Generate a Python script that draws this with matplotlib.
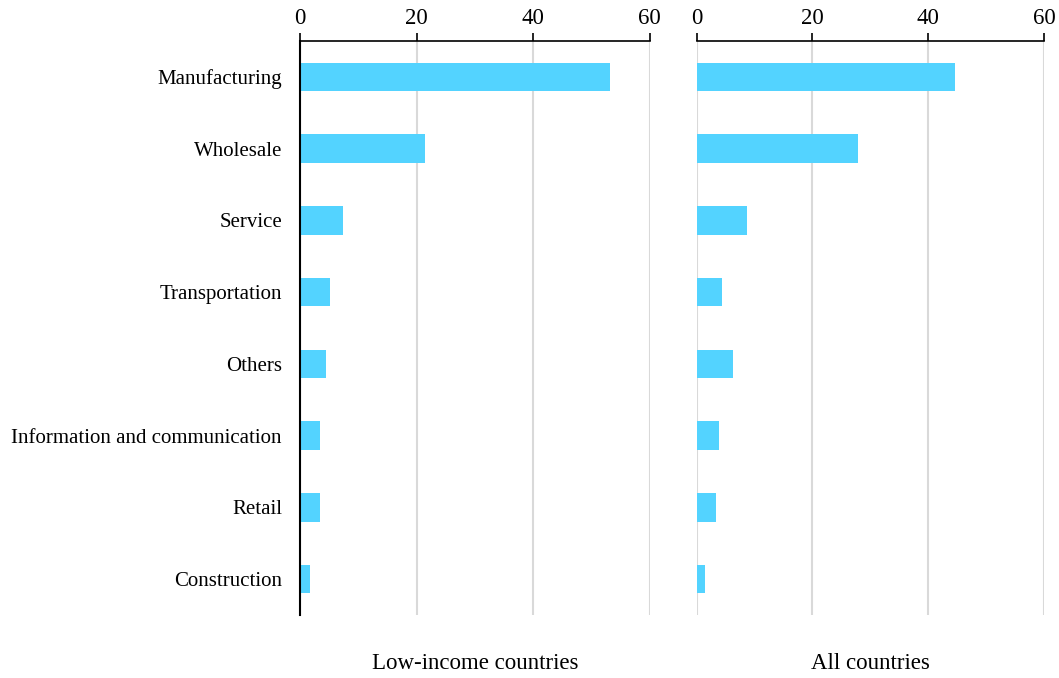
import matplotlib.pyplot as plt
import matplotlib as mpl
import numpy as np

# data
sectors = [
    "Manufacturing",
    "Wholesale",
    "Service",
    "Transportation",
    "Others",
    "Information and communication",
    "Retail",
    "Construction",
]
low_income = [53.2, 21.5, 7.3, 5.1, 4.5, 3.4, 3.4, 1.7]
all_countries = [44.7, 27.9, 8.7, 4.4, 6.2, 3.9, 3.3, 1.4]
panel_titles = ["Low-income countries", "All countries"]
xticks = [0, 20, 40, 60]

mpl.rc("font", family=["Liberation Serif", "DejaVu Serif"], size=15)

fig = plt.figure(figsize=(10.59, 6.78), dpi=100)
ax1 = fig.add_axes([300 / 1059, 1 - 615 / 678, 349.5 / 1059, 574 / 678])
ax2 = fig.add_axes([696.7 / 1059, 1 - 615 / 678, 347.3 / 1059, 574 / 678])

bar_color = "#53d3ff"
ypos = np.arange(len(sectors))

for ax, values, title in zip([ax1, ax2], [low_income, all_countries], panel_titles):
    ax.set_axisbelow(True)
    ax.grid(axis="x", color="#d9d9d9", linewidth=1.5)
    ax.barh(ypos, values, height=0.4, color=bar_color)
    ax.set_xlim(0, 60)
    ax.set_ylim(len(sectors) - 0.5, -0.5)
    ax.set_xticks(xticks)
    ax.xaxis.tick_top()
    ax.tick_params(axis="x", direction="out", length=6, width=1.2, pad=2.5,
                   labelsize=16.5)
    ax.tick_params(axis="y", length=0, pad=13)
    for side in ["right", "bottom"]:
        ax.spines[side].set_visible(False)
    ax.spines["top"].set_linewidth(1.2)
    ax.text(0.5, -0.085, title, transform=ax.transAxes, ha="center", va="center",
            fontsize=16.5)

ax1.set_yticks(ypos)
ax1.set_yticklabels(sectors)
ax1.spines["left"].set_linewidth(1.5)
ax2.set_yticks([])
ax2.spines["left"].set_visible(False)

fig.savefig("out.png", dpi=100)
